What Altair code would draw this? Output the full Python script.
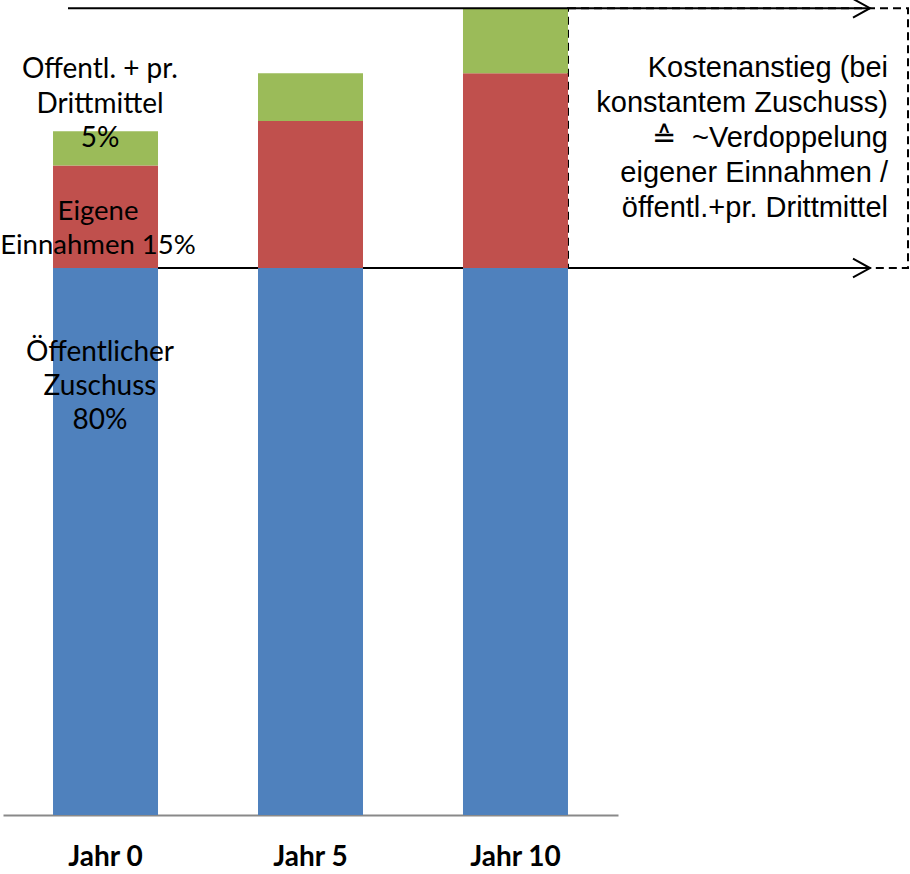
import altair as alt
import pandas as pd

# ---- data ----
years = ["Jahr 0", "Jahr 5", "Jahr 10"]
series = ["Öffentlicher Zuschuss", "Eigene Einnahmen", "Öffentl. + pr. Drittmittel"]
zuschuss = [80, 80, 80]
eigene = [15, 21.5, 28.5]
dritt = [5, 7, 9.5]
colors = ["#4F81BD", "#C0504D", "#9BBB59"]

label_dritt = "Offentl. + pr.\nDrittmittel\n5%"
label_eigene = "Eigene\nEinnahmen 15%"
label_zuschuss = "Öffentlicher\nZuschuss\n80%"
annotation = ("Kostenanstieg (bei\nkonstantem Zuschuss)\n≙\u00a0\u00a0~Verdoppelung\n"
              "eigener Einnahmen /\nöffentl.+pr. Drittmittel")

rows = []
for i, y in enumerate(years):
    for k, (s, vals) in enumerate(zip(series, [zuschuss, eigene, dritt])):
        rows.append({"Jahr": y, "Serie": s, "Wert": vals[i], "ord": k})
df = pd.DataFrame(rows)

total_last = zuschuss[-1] + eigene[-1] + dritt[-1]
base_level = zuschuss[0]
levels = pd.DataFrame({"v": [total_last, base_level]})
box_df = pd.DataFrame({"top": [total_last], "bottom": [base_level]})

# ---- layout ----
W, H = 910, 815
y_scale = alt.Scale(domain=[0, 119.2], nice=False, zero=False)
x_scale = alt.Scale(domain=years, range=[3, 618], paddingInner=0.4878, paddingOuter=0.244)

bars = alt.Chart(df).mark_bar().encode(
    x=alt.X("Jahr:N", scale=x_scale, sort=years,
            axis=alt.Axis(title=None, labelAngle=0, domainColor="#898989", domainWidth=2,
                          ticks=False, tickSize=0, labelFont="Lato", labelFontWeight="bold",
                          labelFontSize=28, labelColor="black", labelPadding=50,
                          labelBaseline="alphabetic", grid=False)),
    y=alt.Y("Wert:Q", stack="zero", scale=y_scale, axis=None),
    color=alt.Color("Serie:N", scale=alt.Scale(domain=series, range=colors), legend=None),
    order=alt.Order("ord:Q", sort="ascending"),
)

box = alt.Chart(box_df).mark_rect(fill="transparent", stroke="black", strokeDash=[8, 5],
                                  strokeWidth=2).encode(
    x=alt.value(568), x2=alt.value(908),
    y=alt.Y("top:Q", scale=y_scale, axis=None), y2="bottom:Q",
)

arrow_top = alt.Chart(levels.iloc[[0]]).mark_rule(color="black", strokeWidth=2).encode(
    x=alt.value(68), x2=alt.value(870), y=alt.Y("v:Q", scale=y_scale, axis=None))
arrow_mid = alt.Chart(levels.iloc[[1]]).mark_rule(color="black", strokeWidth=2).encode(
    x=alt.value(158), x2=alt.value(870), y=alt.Y("v:Q", scale=y_scale, axis=None))

head_shape = "M-1,-0.55L0,0L-1,0.55"
heads = alt.Chart(levels).mark_point(shape=head_shape, filled=False, stroke="black",
                                     strokeWidth=2, size=1156, opacity=1).encode(
    x=alt.value(870), y=alt.Y("v:Q", scale=y_scale, axis=None))

one = alt.Chart(pd.DataFrame({"a": [0]}))

def label(txt, x, y, font, size, lh, align="center"):
    return one.mark_text(text=txt, lineBreak="\n", font=font, fontSize=size, lineHeight=lh,
                         align=align, baseline="alphabetic", color="black").encode(
        x=alt.value(x), y=alt.value(y))

t1 = label(label_dritt, 100, 78, "Lato", 28, 34.5)
t2 = label(label_eigene, 98, 220, "Lato", 27.5, 34)
t3 = label(label_zuschuss, 100, 361, "Lato", 28, 34)
t4 = label(annotation, 888, 77, "Liberation Sans", 29, 35, align="right")

chart = alt.layer(box, arrow_mid, bars, arrow_top, heads, t1, t2, t3, t4).properties(
    width=W, height=H,
    padding={"left": 0, "top": 0, "right": 0, "bottom": 59},
    autosize=alt.AutoSizeParams(type="none"), background="white"
).configure_view(stroke=None)

chart.save("out.html", embed_options={"renderer": "svg", "actions": False})
